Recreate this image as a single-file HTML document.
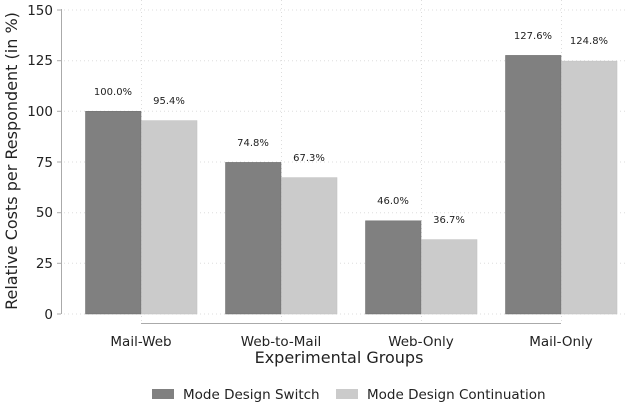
<!DOCTYPE html>
<html><head><meta charset="utf-8"><style>body{margin:0;background:#fff}svg{display:block}text{font-family:"DejaVu Sans","Liberation Sans",sans-serif;fill:#222}</style></head><body>
<svg width="628" height="402" viewBox="0 0 628 402">
<g stroke="#ddd" stroke-dasharray="1,3" stroke-width="1">
<line x1="64" y1="10" x2="628" y2="10"/><line x1="64" y1="60.7" x2="628" y2="60.7"/><line x1="64" y1="111.3" x2="628" y2="111.3"/><line x1="64" y1="162" x2="628" y2="162"/><line x1="64" y1="212.7" x2="628" y2="212.7"/><line x1="64" y1="263.3" x2="628" y2="263.3"/><line x1="64" y1="314" x2="628" y2="314"/>
<line x1="141.5" y1="0" x2="141.5" y2="323"/><line x1="281.5" y1="0" x2="281.5" y2="323"/><line x1="421.5" y1="0" x2="421.5" y2="323"/><line x1="561.5" y1="0" x2="561.5" y2="323"/>
</g>
<line x1="61.5" y1="9" x2="61.5" y2="314" stroke="#aaa"/>
<g stroke="#aaa"><line x1="57" y1="10" x2="61" y2="10"/><line x1="57" y1="60.7" x2="61" y2="60.7"/><line x1="57" y1="111.3" x2="61" y2="111.3"/><line x1="57" y1="162" x2="61" y2="162"/><line x1="57" y1="212.7" x2="61" y2="212.7"/><line x1="57" y1="263.3" x2="61" y2="263.3"/><line x1="57" y1="314" x2="61" y2="314"/></g>
<line x1="141" y1="323.5" x2="561" y2="323.5" stroke="#aaa"/>
<g font-size="13.5" text-anchor="end"><text x="53" y="15">150</text><text x="53" y="65">125</text><text x="53" y="116">100</text><text x="53" y="167">75</text><text x="53" y="217">50</text><text x="53" y="268">25</text><text x="53" y="319">0</text></g>
<text transform="translate(17,161) rotate(-90)" font-size="16" text-anchor="middle">Relative Costs per Respondent (in %)</text>
<g fill="#808080" stroke="#6a6a6a" stroke-width="0.5">
<rect x="85.5" y="111.3" width="55.5" height="202.7"/><rect x="225.5" y="162.4" width="55.5" height="151.6"/><rect x="365.5" y="220.8" width="55.5" height="93.2"/><rect x="505.5" y="55.4" width="55.5" height="258.6"/></g>
<g fill="#cbcbcb" stroke="#bdbdbd" stroke-width="0.5">
<rect x="141.5" y="120.6" width="55.5" height="193.4"/><rect x="281.5" y="177.6" width="55.5" height="136.4"/><rect x="421.5" y="239.6" width="55.5" height="74.4"/><rect x="561.5" y="61.1" width="55.5" height="252.9"/></g>
<g font-size="10" text-anchor="middle"><text x="113" y="95">100.0%</text><text x="169" y="104">95.4%</text><text x="253" y="146">74.8%</text><text x="309" y="161">67.3%</text><text x="393" y="204">46.0%</text><text x="449" y="223">36.7%</text><text x="533" y="39">127.6%</text><text x="589" y="44">124.8%</text></g>
<g font-size="13.5" text-anchor="middle"><text x="141" y="346">Mail-Web</text><text x="281" y="346">Web-to-Mail</text><text x="421" y="346">Web-Only</text><text x="561" y="346">Mail-Only</text></g>
<text x="339" y="363" font-size="16" text-anchor="middle">Experimental Groups</text>
<rect x="152" y="389" width="22" height="10" fill="#808080"/><text x="183" y="399" font-size="13.5">Mode Design Switch</text>
<rect x="336" y="389" width="22" height="10" fill="#cbcbcb"/><text x="367" y="399" font-size="13.5">Mode Design Continuation</text>
</svg>
</body></html>
